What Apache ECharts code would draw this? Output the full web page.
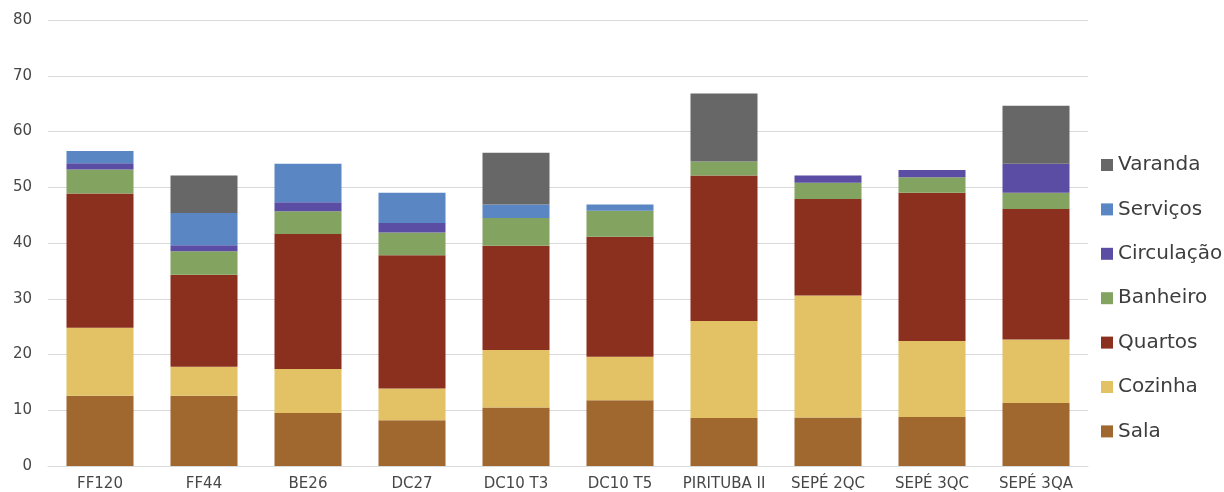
<!DOCTYPE html>
<html>
<head>
<meta charset="utf-8">
<script src="https://cdn.jsdelivr.net/npm/echarts@6/dist/echarts.min.js"></script>
<style>
html,body{margin:0;padding:0;background:#fff;}
#chart{width:1224px;height:492px;}
</style>
</head>
<body>
<div id="chart"></div>
<script>
const categories = ['FF120','FF44','BE26','DC27','DC10 T3','DC10 T5','PIRITUBA II','SEPÉ 2QC','SEPÉ 3QC','SEPÉ 3QA'];
const sala       = [12.6, 12.6,  9.5,  8.2, 10.5, 11.8,  8.6,  8.7,  8.8, 11.3];
const cozinha    = [12.2,  5.2,  7.9,  5.7, 10.3,  7.8, 17.4, 21.9, 13.6, 11.4];
const quartos    = [24.1, 16.5, 24.2, 23.9, 18.7, 21.5, 26.1, 17.3, 26.6, 23.4];
const banheiro   = [ 4.3,  4.2,  4.1,  4.1,  5.0,  4.7,  2.5,  2.9,  2.8,  2.9];
const circulacao = [ 1.1,  1.1,  1.6,  1.7,  0,    0,    0,    1.3,  1.3,  5.2];
const servicos   = [ 2.2,  5.8,  6.9,  5.4,  2.4,  1.1,  0,    0,    0,    0  ];
const varanda    = [ 0,    6.7,  0,    0,    9.3,  0,   12.2,  0,    0,   10.4];
const yTicks = [0,10,20,30,40,50,60,70,80];

const seriesDefs = [
  {name:'Sala', data:sala, color:'#A0672F'},
  {name:'Cozinha', data:cozinha, color:'#E2C264'},
  {name:'Quartos', data:quartos, color:'#8B2F1E'},
  {name:'Banheiro', data:banheiro, color:'#83A461'},
  {name:'Circulação', data:circulacao, color:'#5B4DA3'},
  {name:'Serviços', data:servicos, color:'#5A86C4'},
  {name:'Varanda', data:varanda, color:'#676767'}
];

const chart = echarts.init(document.getElementById('chart'));
chart.setOption({
  animation:false,
  backgroundColor:'#fff',
  grid:{left:48, right:136, top:20, bottom:26, containLabel:false},
  legend:{
    orient:'vertical', left:1101, top:155, padding:0,
    itemWidth:12, itemHeight:12, itemGap:24.4, icon:'rect',
    data: seriesDefs.map(s=>s.name).reverse(),
    textStyle:{fontFamily:'DejaVu Sans', fontSize:20, color:'#3d3d3d', lineHeight:20}
  },
  xAxis:{
    type:'category', data:categories,
    axisLine:{lineStyle:{color:'#d9d9d9', width:1}},
    axisTick:{show:false},
    axisLabel:{fontFamily:'DejaVu Sans', fontSize:15, color:'#474747', margin:11, interval:0}
  },
  yAxis:{
    type:'value', min:yTicks[0], max:yTicks[yTicks.length-1], interval:10,
    axisLine:{show:false}, axisTick:{show:false},
    splitLine:{lineStyle:{color:'#d9d9d9', width:1}},
    axisLabel:{fontFamily:'DejaVu Sans', fontSize:15, color:'#474747', margin:16}
  },
  series: seriesDefs.map(s=>({
    name:s.name, type:'bar', stack:'total', data:s.data,
    barWidth:67, itemStyle:{color:s.color}
  }))
});
</script>
</body>
</html>
